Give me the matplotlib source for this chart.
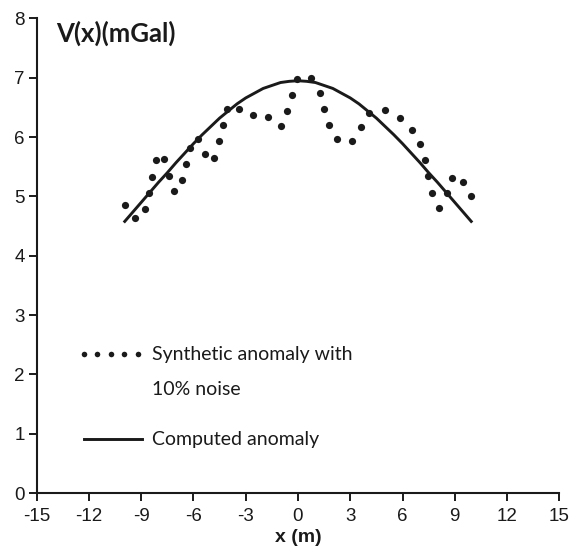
import matplotlib
matplotlib.use('Agg')
from matplotlib import pyplot as plt

# synthetic anomaly with noise
xs = [-9.96, -9.34, -8.81, -8.56, -8.37, -8.16, -7.68, -7.41, -7.09, -6.67,
      -6.44, -6.21, -5.72, -5.34, -4.83, -4.56, -4.33, -4.06, -3.39, -2.56,
      -1.70, -0.99, -0.61, -0.34, -0.03, 0.77, 1.26, 1.52, 1.80, 2.24,
      3.09, 3.59, 4.10, 5.02, 5.84, 6.53, 7.03, 7.28, 7.47, 7.70,
      8.07, 8.53, 8.85, 9.48, 9.94]
ys = [4.86, 4.64, 4.78, 5.05, 5.33, 5.61, 5.63, 5.35, 5.09, 5.27,
      5.54, 5.82, 5.97, 5.71, 5.65, 5.93, 6.20, 6.47, 6.47, 6.38,
      6.34, 6.18, 6.44, 6.71, 6.98, 7.00, 6.74, 6.48, 6.21, 5.96,
      5.93, 6.17, 6.40, 6.45, 6.32, 6.12, 5.88, 5.61, 5.34, 5.06,
      4.81, 5.05, 5.31, 5.25, 5.01]

# computed anomaly
xc = [-10, -9.5, -9, -8.5, -8, -7.5, -7, -6.5, -6, -5.5, -5, -4.5, -4, -3.5,
      -3, -2.5, -2, -1.5, -1, -0.5, 0, 0.5, 1, 1.5, 2, 2.5, 3, 3.5, 4, 4.5,
      5, 5.5, 6, 6.5, 7, 7.5, 8, 8.5, 9, 9.5, 10]
yc = [4.56, 4.73, 4.90, 5.07, 5.24, 5.40, 5.57, 5.73, 5.89, 6.04, 6.18, 6.32,
      6.44, 6.56, 6.66, 6.74, 6.82, 6.87, 6.92, 6.94, 6.95, 6.94, 6.92, 6.87,
      6.82, 6.74, 6.66, 6.56, 6.44, 6.32, 6.18, 6.04, 5.89, 5.73, 5.57, 5.40,
      5.24, 5.07, 4.90, 4.73, 4.56]

xticks = [-15, -12, -9, -6, -3, 0, 3, 6, 9, 12, 15]
yticks = [0, 1, 2, 3, 4, 5, 6, 7, 8]

ink = '#1a1a1a'
plt.rcParams['font.family'] = ['Liberation Sans', 'DejaVu Sans']
plt.rcParams['axes.unicode_minus'] = False

fig = plt.figure(figsize=(5.70, 5.59), dpi=100)
ax = fig.add_axes([0.0644, 0.118, 0.9168, 0.849])

ax.plot(xc, yc, color=ink, lw=2.1, solid_capstyle='butt', clip_on=False)
ax.plot(xs, ys, ls='', marker='o', ms=5.2, color=ink, mec='none', clip_on=False)

# hand-made legend
ax.plot([-12.3, -11.53, -10.75, -9.98, -9.2], [2.34] * 5, ls='', marker='o',
        ms=4.0, color=ink, mec='none')
ax.plot([-12.3, -8.95], [0.91, 0.91], color=ink, lw=2.1)
ax.text(-8.40, 2.34, 'Synthetic anomaly with', family='Lato', fontsize=14,
        va='center', color=ink)
ax.text(-8.40, 1.74, '10% noise', family='Lato', fontsize=14,
        va='center', color=ink)
ax.text(-8.40, 0.91, 'Computed anomaly', family='Lato', fontsize=14,
        va='center', color=ink)
ax.text(-13.9, 7.75, 'V(x)(mGal)', family='Lato', fontsize=18.5, weight='bold',
        va='center', color=ink)

ax.set_xlim(-15, 15)
ax.set_ylim(0, 8)
ax.set_xticks(xticks)
ax.set_yticks(yticks)
ax.set_xlabel('x (m)', fontsize=14, weight='bold', color=ink, labelpad=3)

for s in ['top', 'right']:
    ax.spines[s].set_visible(False)
for s in ['left', 'bottom']:
    ax.spines[s].set_linewidth(1.5)
    ax.spines[s].set_color(ink)
ax.tick_params(direction='out', length=5.5, width=1.4, color=ink,
               labelsize=13.5, labelcolor=ink)
ax.tick_params(axis='x', pad=5)
ax.tick_params(axis='y', pad=3)

fig.savefig('out.png', dpi=100)
